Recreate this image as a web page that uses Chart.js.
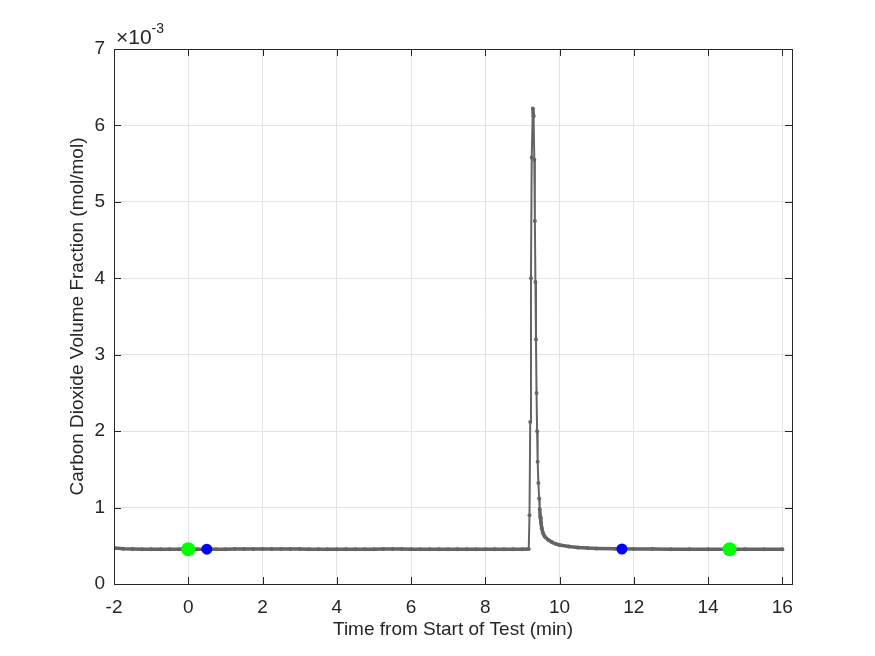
<!DOCTYPE html>
<html>
<head>
<meta charset="utf-8">
<script src="https://cdn.jsdelivr.net/npm/chart.js@4.4.0/dist/chart.umd.min.js"></script>
<style>
  html, body { margin: 0; padding: 0; background: #ffffff; }
  #wrap { width: 875px; height: 656px; position: relative; }
</style>
</head>
<body>
<div id="wrap"><canvas id="c" width="875" height="656"></canvas></div>
<script>
// Time from start of test (min)
const timeMin = [
  -2.00, -1.75, -1.50, -1.25, -1.00, -0.75, -0.50, -0.25, 0.00, 0.25, 0.50, 0.75,
  1.00, 1.25, 1.50, 1.75, 2.00, 2.25, 2.50, 2.75, 3.00, 3.25, 3.50, 3.75,
  4.00, 4.25, 4.50, 4.75, 5.00, 5.25, 5.50, 5.75, 6.00, 6.25, 6.50, 6.75,
  7.00, 7.25, 7.50, 7.75, 8.00, 8.25, 8.50, 8.75, 9.00, 9.17,
  9.19, 9.21, 9.23, 9.25, 9.28, 9.30, 9.32, 9.335, 9.35, 9.365, 9.38, 9.395,
  9.41, 9.43, 9.45, 9.465, 9.48, 9.50, 9.52, 9.55, 9.60, 9.70, 9.80, 9.90,
  10.00, 10.25, 10.50, 10.75, 11.00, 11.50, 12.00, 12.50, 13.00, 13.50, 14.00,
  14.50, 15.00, 15.50, 16.00
];
// Carbon dioxide volume fraction, in units of 1e-3 mol/mol
const co2Milli = [
  0.472, 0.462, 0.458, 0.456, 0.455, 0.455, 0.456, 0.455, 0.455, 0.455, 0.455, 0.456,
  0.456, 0.457, 0.457, 0.457, 0.458, 0.458, 0.458, 0.457, 0.457, 0.456, 0.456, 0.456,
  0.456, 0.456, 0.456, 0.456, 0.456, 0.457, 0.457, 0.457, 0.456, 0.456, 0.455, 0.455,
  0.455, 0.455, 0.455, 0.455, 0.455, 0.455, 0.455, 0.455, 0.455, 0.458,
  0.90, 2.12, 4.00, 5.58, 6.22, 6.12, 5.55, 4.75, 3.95, 3.20, 2.50, 2.00,
  1.60, 1.32, 1.12, 0.98, 0.88, 0.80, 0.73, 0.67, 0.62, 0.575, 0.545, 0.525,
  0.510, 0.490, 0.478, 0.470, 0.466, 0.462, 0.459, 0.457, 0.456, 0.455, 0.455,
  0.455, 0.455, 0.455, 0.454
];
// Green markers
const greenTimes = [0.00, 14.58];
const greenValues = [0.455, 0.455];
// Blue markers
const blueTimes = [0.50, 11.68];
const blueValues = [0.455, 0.458];

const xTicks = [-2, 0, 2, 4, 6, 8, 10, 12, 14, 16];
const yTicks = [0, 1, 2, 3, 4, 5, 6, 7];
const xLabel = 'Time from Start of Test (min)';
const yLabel = 'Carbon Dioxide Volume Fraction (mol/mol)';

const toPts = (xs, ys) => xs.map((x, i) => ({ x: x, y: ys[i] }));

const TXT = '#262626';
const FONT = "'Liberation Sans', Arial, Helvetica, sans-serif";

const boxPlugin = {
  id: 'matlabBox',
  afterDraw(chart) {
    const { ctx, chartArea: a, scales } = chart;
    ctx.save();
    ctx.strokeStyle = TXT;
    ctx.lineWidth = 1;
    ctx.strokeRect(Math.round(a.left) + 0.5, Math.round(a.top) + 0.5,
                   Math.round(a.right - a.left), Math.round(a.bottom - a.top));
    const tl = 7;
    ctx.beginPath();
    xTicks.forEach(v => {
      const px = Math.round(scales.x.getPixelForValue(v)) + 0.5;
      ctx.moveTo(px, a.bottom); ctx.lineTo(px, a.bottom - tl);
      ctx.moveTo(px, a.top); ctx.lineTo(px, a.top + tl);
    });
    yTicks.forEach(v => {
      const py = Math.round(scales.y.getPixelForValue(v)) + 0.5;
      ctx.moveTo(a.left, py); ctx.lineTo(a.left + tl, py);
      ctx.moveTo(a.right, py); ctx.lineTo(a.right - tl, py);
    });
    ctx.stroke();
    // exponent label
    ctx.fillStyle = TXT;
    ctx.textBaseline = 'alphabetic';
    ctx.textAlign = 'left';
    ctx.font = '21px ' + FONT;
    ctx.fillText('\u00d710', a.left + 2, a.top - 5);
    const w = ctx.measureText('\u00d710').width;
    ctx.font = '14px ' + FONT;
    ctx.fillText('-3', a.left + 2 + w, a.top - 16);
    ctx.restore();
  }
};

new Chart(document.getElementById('c'), {
  type: 'line',
  data: {
    datasets: [
      {
        data: toPts(greenTimes, greenValues),
        showLine: false,
        pointRadius: 7,
        pointBackgroundColor: '#00ff00',
        pointBorderColor: '#00ff00',
        borderWidth: 0,
        order: 0
      },
      {
        data: toPts(blueTimes, blueValues),
        showLine: false,
        pointRadius: 5.5,
        pointBackgroundColor: '#0000ff',
        pointBorderColor: '#0000ff',
        borderWidth: 0,
        order: 1
      },
      {
        data: toPts(timeMin, co2Milli),
        borderColor: '#646464',
        backgroundColor: '#646464',
        borderWidth: 2,
        pointRadius: 2,
        pointBorderWidth: 0,
        pointBackgroundColor: '#646464',
        tension: 0,
        segment: {
          borderWidth: c => Math.abs(c.p1.parsed.y - c.p0.parsed.y) > 0.12 ? 2 : 3.5
        },
        order: 2
      }
    ]
  },
  options: {
    responsive: false,
    animation: false,
    layout: { padding: { top: 49, right: 83, left: 62, bottom: 11 } },
    plugins: { legend: { display: false }, tooltip: { enabled: false } },
    scales: {
      x: {
        type: 'linear',
        min: -2, max: 16.26,
        afterBuildTicks: s => { s.ticks = xTicks.map(v => ({ value: v })); },
        afterFit: s => { s.height = 61; },
        grid: { color: '#e3e3e3', drawTicks: false, lineWidth: 1 },
        border: { display: false },
        ticks: { color: TXT, font: { family: FONT, size: 19 }, padding: 12, maxRotation: 0,
                 callback: v => String(v) },
        title: { display: true, text: xLabel, color: TXT, font: { family: FONT, size: 19 }, padding: { top: 0, bottom: 4 } }
      },
      y: {
        type: 'linear',
        min: 0, max: 7,
        afterBuildTicks: s => { s.ticks = yTicks.map(v => ({ value: v })); },
        afterFit: s => { s.width = 52; },
        grid: { color: '#e3e3e3', drawTicks: false, lineWidth: 1 },
        border: { display: false },
        ticks: { color: TXT, font: { family: FONT, size: 19 }, padding: 9,
                 callback: v => String(v) },
        title: { display: true, text: yLabel, color: TXT, font: { family: FONT, size: 19 }, padding: { top: 4, bottom: 0 } }
      }
    }
  },
  plugins: [boxPlugin]
});
</script>
</body>
</html>
